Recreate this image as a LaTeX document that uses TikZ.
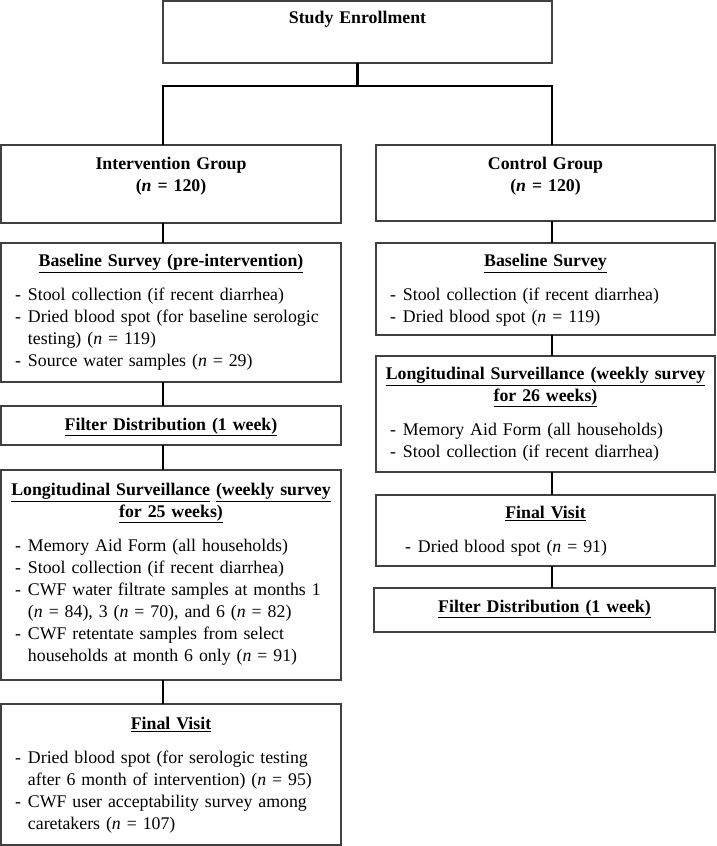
\documentclass[tikz,border=0pt]{standalone}
\usepackage{fontspec}
\setmainfont{Liberation Serif}
\usetikzlibrary{positioning}

\newcommand{\boxtitle}[1]{\makebox[\linewidth]{\textbf{#1}}\par}
\newcommand{\dashitem}[2][0pt]{\par\hangindent=\dimexpr13pt+#1\relax\hangafter=1\hspace*{#1}\makebox[13pt][l]{-}#2\par}

\tikzset{
  stagebox/.style={draw=black!75, line width=1.2pt, anchor=north west, inner xsep=14pt, inner ysep=0pt, outer sep=0pt, align=left, font=\fontsize{17.8}{22}\selectfont},
  link/.style={line width=2.4pt}
}

\begin{document}
\begin{tikzpicture}[x=1pt, y=-1pt]
			\useasboundingbox (0,0) rectangle (716,846);
			
			\node[stagebox, text width=361pt, text height=22.5pt, text depth=39.5pt] (enroll) at (163,1) {\boxtitle{Study Enrollment}};
			
			% intervention arm
			\node[stagebox, text width=312pt, text height=24.5pt, text depth=53.5pt] (interv) at (1,145) {\boxtitle{Intervention Group}\boxtitle{(\textit{n} = 120)}};
			\node[stagebox, text width=312pt, text height=23.5pt, text depth=115.5pt] (baseI) at (1,243) {\boxtitle{\underline{Baseline Survey (pre-intervention)}}\vspace{12pt}
				\dashitem{Stool collection (if recent diarrhea)}
				\dashitem{Dried blood spot (for baseline serologic\newline testing) (\textit{n} = 119)}
				\dashitem{Source water samples (\textit{n} = 29)}};
			\node[stagebox, text width=312pt, text height=24.5pt, text depth=14.5pt] (filterI) at (1,406) {\boxtitle{\underline{Filter Distribution (1 week)}}};
			\node[stagebox, text width=312pt, text height=25.5pt, text depth=184.5pt] (survI) at (1,470) {\boxtitle{\underline{Longitudinal Surveillance} \underline{(weekly survey}}\boxtitle{\underline{for 25 weeks)}}\vspace{12pt}
				\dashitem{Memory Aid Form (all households)}
				\dashitem{Stool collection (if recent diarrhea)}
				\dashitem{CWF water filtrate samples at months 1\newline (\textit{n} = 84), 3 (\textit{n} = 70), and 6 (\textit{n} = 82)}
				\dashitem{CWF retentate samples from select\newline households at month 6 only (\textit{n} = 91)}};
			\node[stagebox, text width=312pt, text height=25.5pt, text depth=115.5pt] (finalI) at (1,704) {\boxtitle{\underline{Final Visit}}\vspace{12pt}
				\dashitem{Dried blood spot (for serologic testing\newline after 6 month of intervention) (\textit{n} = 95)}
				\dashitem{CWF user acceptability survey among\newline caretakers (\textit{n} = 107)}};
			
			% control arm
			\node[stagebox, text width=311pt, text height=24.5pt, text depth=51.5pt] (ctrl) at (376,145) {\boxtitle{Control Group}\boxtitle{(\textit{n} = 120)}};
			\node[stagebox, text width=311pt, text height=23.5pt, text depth=68.5pt] (baseC) at (376,243) {\boxtitle{\underline{Baseline Survey}}\vspace{12pt}
				\dashitem{Stool collection (if recent diarrhea)}
				\dashitem{Dried blood spot (\textit{n} = 119)}};
			\node[stagebox, text width=311pt, text height=23.5pt, text depth=92.5pt] (survC) at (376,356) {\boxtitle{\underline{Longitudinal Surveillance (weekly survey}}\boxtitle{\underline{for 26 weeks)}}\vspace{12pt}
				\dashitem{Memory Aid Form (all households)}
				\dashitem{Stool collection (if recent diarrhea)}};
			\node[stagebox, text width=311pt, text height=23.5pt, text depth=47.5pt] (finalC) at (376,495) {\boxtitle{\underline{Final Visit}}\vspace{12pt}
				\dashitem[15pt]{Dried blood spot (\textit{n} = 91)}};
			\node[stagebox, text width=313pt, text height=24.5pt, text depth=19.5pt] (filterC) at (374,588) {\boxtitle{\underline{Filter Distribution (1 week)}}};
			
			\coordinate (lx) at (163,0);
			\coordinate (rx) at (552,0);
			\coordinate (branch) at (0,86);
			
			\draw[link] (enroll.south) -- (enroll.south |- branch);
			\draw[link] (interv.north -| lx) |- (enroll.south |- branch) -| (ctrl.north -| rx);
			
			\draw[link] (interv.south -| lx) -- (baseI.north -| lx);
			\draw[link] (baseI.south -| lx) -- (filterI.north -| lx);
			\draw[link] (filterI.south -| lx) -- (survI.north -| lx);
			\draw[link] (survI.south -| lx) -- (finalI.north -| lx);
			
			\draw[link] (ctrl.south -| rx) -- (baseC.north -| rx);
			\draw[link] (baseC.south -| rx) -- (survC.north -| rx);
			\draw[link] (survC.south -| rx) -- (finalC.north -| rx);
			\draw[link] (finalC.south -| rx) -- (filterC.north -| rx);
		\end{tikzpicture}
\end{document}
